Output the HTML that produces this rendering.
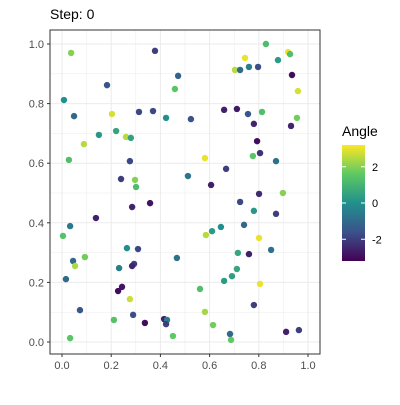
<!DOCTYPE html>
<html><head><meta charset="utf-8"><style>
body{margin:0;background:#fff;font-family:"Liberation Sans",sans-serif}
</style></head><body>
<svg id="c" width="400" height="400" xmlns="http://www.w3.org/2000/svg">
<defs><linearGradient id="vg" x1="0" y1="1" x2="0" y2="0">
<stop offset="0" stop-color="#440154"/><stop offset="0.25" stop-color="#3b528b"/><stop offset="0.5" stop-color="#21908c"/><stop offset="0.75" stop-color="#5dc963"/><stop offset="1" stop-color="#fde725"/></linearGradient></defs>
<text x="50" y="19" font-size="14" fill="#000">Step: 0</text>
<g id="panel"></g>
<g id="legend">
<text x="342" y="136" font-size="14">Angle</text>
<rect x="342" y="145" width="23" height="116" fill="url(#vg)"/>
</g>
</svg>
<script>
const xs=[.037,.378,.472,.459,.183,.008,.049,.203,.313,.370,.423,.150,.220,.260,.280,.089,.028,.276,.240,.297,.301,.829,.744,.919,.927,.878,.703,.724,.760,.797,.935,.959,.659,.711,.756,.813,.524,.955,.780,.931,.793,.776,.805,.581,.870,.667,.512,.606,.801,.898,.358,.285,.138,.033,.004,.264,.309,.467,.093,.045,.053,.232,.293,.285,.016,.244,.228,.276,.073,.289,.211,.337,.415,.427,.423,.033,.451,.724,.780,.870,.740,.646,.610,.585,.801,.715,.760,.850,.711,.691,.659,.805,.561,.780,.581,.614,.683,.687,.911,.963];
const ys=[.970,.977,.893,.849,.862,.812,.758,.765,.772,.775,.752,.695,.708,.688,.685,.664,.611,.607,.547,.544,.520,1.0,.953,.973,.966,.946,.913,.913,.923,.923,.896,.842,.779,.782,.765,.772,.748,.752,.732,.725,.674,.624,.634,.617,.607,.581,.557,.527,.497,.500,.466,.453,.416,.389,.356,.315,.312,.282,.285,.272,.255,.248,.262,.255,.211,.185,.171,.144,.107,.091,.074,.064,.077,.074,.060,.013,.020,.470,.440,.430,.393,.386,.372,.359,.349,.299,.295,.309,.245,.221,.205,.195,.178,.124,.101,.057,.027,.007,.034,.040];
const angles=[2,-2,-1.2,1.5,-1.5,0,-1,2.8,-1.8,-1.8,0,0.2,0.5,2.5,0.5,2.5,1.3,-1.8,-2,2,1.2,1.2,3,3,1.3,0.3,2.5,-1,-0.5,-1.7,-3,2.8,-2.6,-2.7,-1.5,1.3,-1.6,1.8,-2.5,-2.5,-3,1.5,-2.2,3,-0.8,-2,-0.7,-2.6,-2.4,2,-2.8,-2.5,-2.6,-0.6,1.4,0,-1.8,-0.8,1.8,-1,2.4,-0.5,-2,-2.5,-1,-2.8,-3,2.7,-1.5,-1.7,1.4,-3,-2.6,-0.5,-2,1.5,1.6,-1.8,0.2,-2,-1,0,0.3,2.5,3,0.6,-2.6,-0.8,0.6,0.4,0.3,3,1.3,-2,2.3,1.8,-1,1.6,-2.6,-2];
const xTicks=["0.0","0.2","0.4","0.6","0.8","1.0"];
const yTicks=["0.0","0.2","0.4","0.6","0.8","1.0"];
const legendTicks=["2","0","-2"];
const NS="http://www.w3.org/2000/svg";
const X=v=>62+v*246, Y=v=>342-v*298;
const CMIN=-3.2,CMAX=3.2;
const LY=v=>261-(v-CMIN)/(CMAX-CMIN)*116;
const vir=[[68,1,84],[59,82,139],[33,144,140],[93,201,99],[253,231,37]];
function col(a){let t=Math.max(0,Math.min(1,(a-CMIN)/(CMAX-CMIN)))*4;let i=Math.min(3,Math.floor(t)),f=t-i;const c=vir[i].map((v,k)=>Math.round(v+(vir[i+1][k]-v)*f));return `rgb(${c})`;}
function mk(tag,at,p){const e=document.createElementNS(NS,tag);for(const k in at)e.setAttribute(k,at[k]);p.appendChild(e);return e;}
const g=document.getElementById('panel');
const bg=mk('rect',{x:50,y:30,width:270,height:324,fill:'#fff'},g);


for(let i=0;i<=10;i++){const v=i/10;const w=i%2==0?1:0.5;
 mk('line',{x1:X(v),x2:X(v),y1:30,y2:354,stroke:'#ebebeb','stroke-width':w},g);
 mk('line',{x1:50,x2:320,y1:Y(v),y2:Y(v),stroke:'#ebebeb','stroke-width':w},g);}
xTicks.forEach(t=>{const v=parseFloat(t);
 mk('line',{x1:X(v),x2:X(v),y1:354,y2:357,stroke:'#333'},g);
 const e=mk('text',{x:X(v),y:369,'font-size':11,fill:'#4d4d4d','text-anchor':'middle'},g);e.textContent=t;
 
 });
yTicks.forEach(t=>{const v=parseFloat(t);
 mk('line',{x1:47,x2:50,y1:Y(v),y2:Y(v),stroke:'#333'},g);
 const e=mk('text',{x:44,y:Y(v)+4,'font-size':11,fill:'#4d4d4d','text-anchor':'end'},g);e.textContent=t;
 
 });
xs.forEach((x,i)=>{const c=mk('circle',{cx:X(x),cy:Y(ys[i]),r:3.2,fill:col(angles[i])},g);
 
 });
mk('rect',{x:50,y:30,width:270,height:324,fill:'none',stroke:'#333','stroke-width':1},g);
const L=document.getElementById('legend');
legendTicks.forEach(t=>{const v=parseFloat(t);
 mk('line',{x1:342,x2:346,y1:LY(v),y2:LY(v),stroke:'#fff'},L);
 mk('line',{x1:361,x2:365,y1:LY(v),y2:LY(v),stroke:'#fff'},L);
 const e=mk('text',{x:372,y:LY(v)+4,'font-size':11,fill:'#000'},L);e.textContent=t;
 
 });
</script>
</body></html>
